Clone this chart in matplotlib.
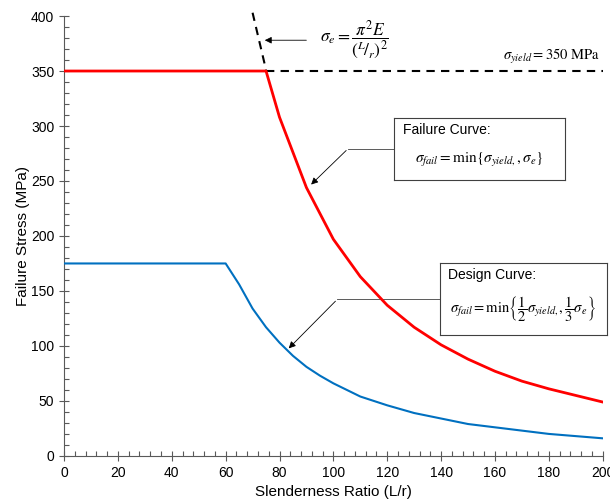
import numpy as np
import matplotlib.pyplot as plt
from matplotlib.ticker import MultipleLocator

plt.rcParams['font.family'] = ['Liberation Sans', 'DejaVu Sans']
plt.rcParams['mathtext.fontset'] = 'stix'

# values
fail_x = [0, 75, 80, 90, 100, 110, 120, 130, 140, 150, 160, 170, 180, 190, 200]
fail_y = [350, 350, 308, 244, 197, 163, 137, 117, 101, 88, 77, 68, 61, 55, 49]

design_x = [0, 60, 65, 70, 75, 80, 85, 90, 95, 100, 110, 120, 130, 140, 150, 160, 170, 180, 190, 200]
design_y = [175, 175, 156, 134, 117, 103, 91, 81, 73, 66, 54, 46, 39, 34, 29, 26, 23, 20, 18, 16]

euler_x = [70, 75]
euler_y = [403, 351]
yield_x = [75, 200]
yield_y = [350, 350]

fig = plt.figure(figsize=(6.1, 5.01), dpi=100)
ax = fig.add_axes([0.105, 0.09, 0.883, 0.878])

ax.plot(fail_x, fail_y, color='#FF0000', lw=2.0, zorder=3)
ax.plot(design_x, design_y, color='#0070C0', lw=1.5, zorder=3)
ax.plot(euler_x, euler_y, color='black', lw=1.5, ls=(0, (4, 3)), clip_on=False)
ax.plot(yield_x, yield_y, color='black', lw=1.5, ls=(0, (4, 3)))

ax.set_xlim(0, 200)
ax.set_ylim(0, 400)
ax.xaxis.set_major_locator(MultipleLocator(20))
ax.xaxis.set_minor_locator(MultipleLocator(4))
ax.yaxis.set_major_locator(MultipleLocator(50))
ax.yaxis.set_minor_locator(MultipleLocator(10))
ax.tick_params(which='major', direction='inout', length=7, width=0.8,
               color='#595959', labelsize=10)
ax.tick_params(which='minor', direction='in', length=3.5, width=0.8, color='#595959')
for s in ['top', 'right']:
    ax.spines[s].set_visible(False)
for s in ['left', 'bottom']:
    ax.spines[s].set_color('#595959')

ax.set_xlabel('Slenderness Ratio (L/r)', fontsize=11, labelpad=4)
ax.set_ylabel('Failure Stress (MPa)', fontsize=11, labelpad=1)

# Euler formula with arrow
ax.annotate('', xy=(73.5, 378), xytext=(91, 378),
            arrowprops=dict(arrowstyle='-|>', color='black', lw=0.6,
                            mutation_scale=10))
ax.text(95, 378, r'$\sigma_e = \dfrac{\pi^2 E}{\left({}^{L}\!/_{r}\right)^2}$',
        fontsize=12.5, va='center', ha='left')
ax.text(163, 355, r'$\sigma_{yield} = 350\ \mathrm{MPa}$', fontsize=10.5,
        va='bottom', ha='left')

# failure curve callout
fbox = fig.add_axes([394 / 610, 1 - 180 / 501, 171 / 610, 62 / 501])
fbox.set_xticks([])
fbox.set_yticks([])
for s in fbox.spines.values():
    s.set_color('#404040')
    s.set_linewidth(0.8)
fbox.text(0.05, 0.8, 'Failure Curve:', fontsize=10, va='center', ha='left')
fbox.text(0.5, 0.33, r'$\sigma_{fail} = \min\left\{\sigma_{yield,}, \sigma_e\right\}$',
          fontsize=11, va='center', ha='center')
ax.plot([105.5, 122.5], [279.5, 279.5], color='#404040', lw=0.6, clip_on=False)
ax.annotate('', xy=(91, 245), xytext=(105.5, 279.5),
            arrowprops=dict(arrowstyle='-|>', color='black', lw=0.6,
                            mutation_scale=10))

# design curve callout
dbox = fig.add_axes([440 / 610, 1 - 335 / 501, 167 / 610, 72 / 501])
dbox.set_xticks([])
dbox.set_yticks([])
for s in dbox.spines.values():
    s.set_color('#404040')
    s.set_linewidth(0.8)
dbox.text(0.05, 0.83, 'Design Curve:', fontsize=10, va='center', ha='left')
dbox.text(0.5, 0.36,
          r'$\sigma_{fail} = \min\left\{\dfrac{1}{2}\sigma_{yield,}, \dfrac{1}{3}\sigma_e\right\}$',
          fontsize=10.5, va='center', ha='center')
ax.plot([101.5, 139.5], [142.5, 142.5], color='#404040', lw=0.6, clip_on=False)
ax.annotate('', xy=(82.7, 96), xytext=(101.5, 142.5),
            arrowprops=dict(arrowstyle='-|>', color='black', lw=0.6,
                            mutation_scale=10))

fig.savefig('out.png', dpi=100)
